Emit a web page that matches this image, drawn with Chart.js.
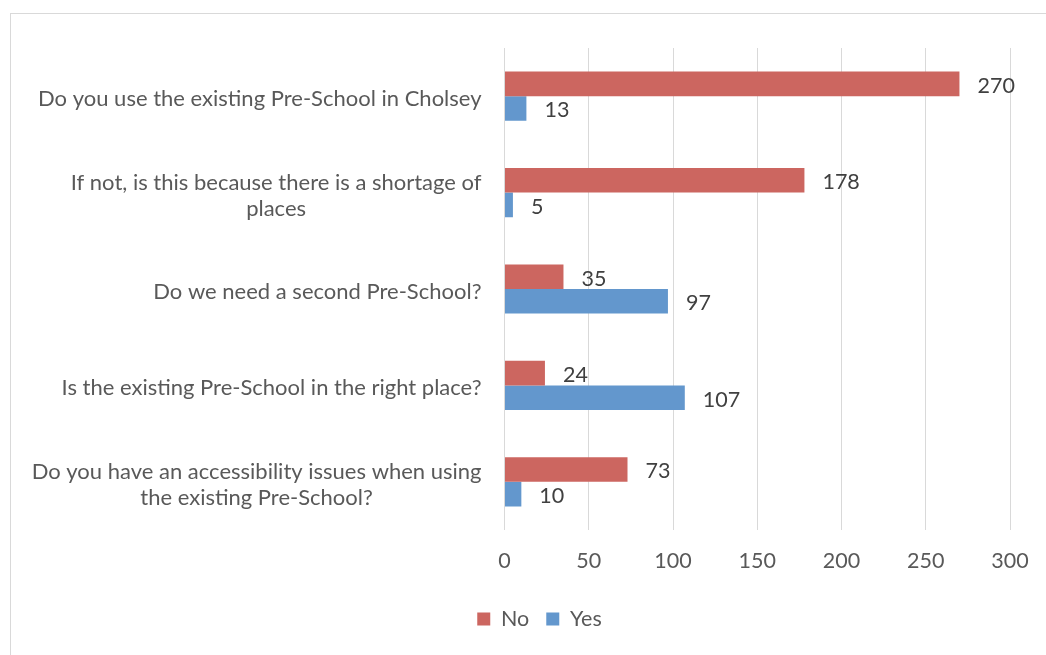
<!DOCTYPE html>
<html>
<head>
<meta charset="utf-8">
<script src="https://cdn.jsdelivr.net/npm/chart.js@4/dist/chart.umd.min.js"></script>
<style>
  html, body { margin: 0; padding: 0; background: #fff; overflow: hidden; width: 1046px; height: 655px; }
  #wrap { position: absolute; left: 10px; top: 13px; width: 1060px; height: 641px; border: 1px solid #d9d9d9; background: #fff; }
  canvas { display: block; }
</style>
</head>
<body>
<div id="wrap"><canvas id="c" width="1060" height="641"></canvas></div>
<script>
const categories = [
  "Do you use the existing Pre-School in Cholsey",
  ["If not, is this because there is a shortage of", "places"],
  "Do we need a second Pre-School?",
  "Is the existing Pre-School in the right place?",
  ["Do you have an accessibility issues when using", "the existing Pre-School?"]
];
const noValues = [270, 178, 35, 24, 73];
const yesValues = [13, 5, 97, 107, 10];
const xTicks = [0, 50, 100, 150, 200, 250, 300];

const FONT = "Lato, 'Open Sans', sans-serif";
const FS = 21.5;
const FS_Y = 22;

const yLabelPlugin = {
  id: 'yLabels',
  afterDraw(chart) {
    const ctx = chart.ctx;
    const y = chart.scales.y;
    const rightEdge = chart.chartArea.left - 23;
    ctx.save();
    ctx.font = FS_Y + "px " + FONT;
    ctx.fillStyle = '#595959';
    ctx.textAlign = 'center';
    ctx.textBaseline = 'middle';
    const lh = 26;
    categories.forEach((lab, i) => {
      const lines = Array.isArray(lab) ? lab : [lab];
      const w = Math.max(...lines.map(l => ctx.measureText(l).width));
      const cx = rightEdge - w / 2;
      const cy = y.getPixelForValue(i) + 3;
      const start = cy - (lines.length - 1) * lh / 2;
      lines.forEach((l, k) => ctx.fillText(l, cx, start + k * lh));
    });
    ctx.restore();
  }
};

const valueLabelPlugin = {
  id: 'valueLabels',
  afterDatasetsDraw(chart) {
    const ctx = chart.ctx;
    ctx.save();
    ctx.font = FS + "px " + FONT;
    ctx.fillStyle = '#404040';
    ctx.textAlign = 'left';
    ctx.textBaseline = 'middle';
    chart.data.datasets.forEach((ds, di) => {
      const meta = chart.getDatasetMeta(di);
      meta.data.forEach((bar, i) => {
        ctx.fillText(String(ds.data[i]), bar.x + 18, bar.y + 2);
      });
    });
    ctx.restore();
  }
};

new Chart(document.getElementById('c'), {
  type: 'bar',
  data: {
    labels: categories,
    datasets: [
      { label: 'No', data: noValues, backgroundColor: '#CC6660', borderWidth: 0 },
      { label: 'Yes', data: yesValues, backgroundColor: '#6397CD', borderWidth: 0 }
    ]
  },
  plugins: [yLabelPlugin, valueLabelPlugin],
  options: {
    indexAxis: 'y',
    responsive: false,
    animation: false,
    devicePixelRatio: 1,
    layout: { padding: { top: 34, right: 61, bottom: 15.25, left: 58 } },
    datasets: { bar: { categoryPercentage: 0.51, barPercentage: 1.0 } },
    scales: {
      x: {
        min: 0, max: 300,
        afterBuildTicks(scale) { scale.ticks = xTicks.map(v => ({ value: v })); },
        afterFit(scale) { scale.height = 61.25; },
        grid: { color: '#d9d9d9', lineWidth: 1, drawTicks: false },
        border: { display: false },
        ticks: { color: '#595959', font: { family: FONT, size: FS }, padding: 18 }
      },
      y: {
        afterFit(scale) { scale.width = 435.5; },
        grid: { display: false },
        border: { display: false },
        ticks: { display: false }
      }
    },
    plugins: {
      legend: {
        position: 'bottom',
        labels: {
          boxWidth: 13, boxHeight: 13, padding: 17,
          color: '#595959',
          font: { family: FONT, size: FS }
        }
      },
      tooltip: { enabled: false }
    }
  }
});
</script>
</body>
</html>
